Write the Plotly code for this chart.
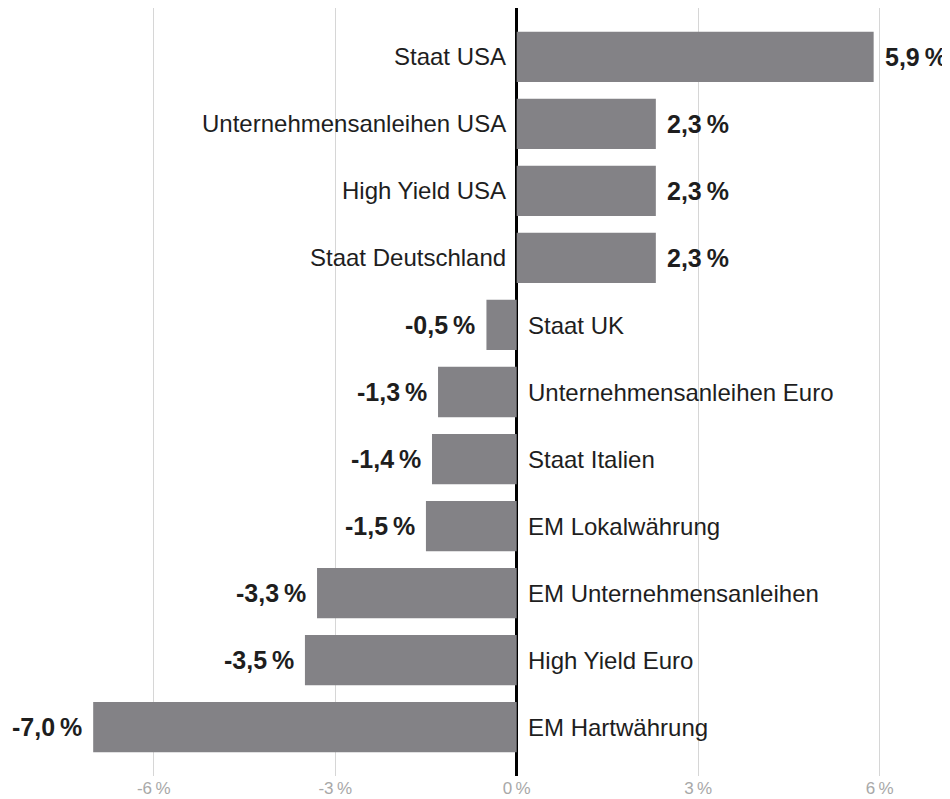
import plotly.graph_objects as go

categories = ["Staat USA", "Unternehmensanleihen USA", "High Yield USA", "Staat Deutschland",
              "Staat UK", "Unternehmensanleihen Euro", "Staat Italien", "EM Lokalwährung",
              "EM Unternehmensanleihen", "High Yield Euro", "EM Hartwährung"]
values = [5.9, 2.3, 2.3, 2.3, -0.5, -1.3, -1.4, -1.5, -3.3, -3.5, -7.0]
tick_vals = [-6, -3, 0, 3, 6]
tick_text = ["-6\u2009%", "-3\u2009%", "0\u2009%", "3\u2009%", "6\u2009%"]

FONT = "Liberation Sans, Arial, Helvetica, sans-serif"
BAR_COLOR = "#838286"
TEXT_COLOR = "#1e1e1e"

fig = go.Figure()
fig.add_trace(go.Bar(
    x=values, y=categories, orientation="h",
    marker=dict(color=BAR_COLOR, line=dict(width=0)),
    width=0.75, hoverinfo="skip",
))

annotations = []
for cat, v in zip(categories, values):
    label = f"{v:.1f}".replace(".", ",") + "\u2009%"
    pos = v >= 0
    annotations.append(dict(
        x=v, y=cat, xref="x", yref="y", text=f"<b>{label}</b>", showarrow=False,
        xanchor="left" if pos else "right", xshift=9 if pos else -9,
        font=dict(family=FONT, size=25, color=TEXT_COLOR),
    ))
    annotations.append(dict(
        x=0, y=cat, xref="x", yref="y", text=cat, showarrow=False,
        xanchor="right" if pos else "left", xshift=-9 if pos else 9,
        font=dict(family=FONT, size=24, color=TEXT_COLOR),
    ))

fig.update_layout(
    width=942, height=791,
    margin=dict(l=0, r=0, t=0, b=23),
    paper_bgcolor="white", plot_bgcolor="white",
    showlegend=False,
    annotations=annotations,
    xaxis=dict(
        range=[-8.408, 7.162], tickvals=tick_vals, ticktext=tick_text,
        showgrid=True, gridcolor="#d6d6d6", gridwidth=1,
        zeroline=True, zerolinecolor="black", zerolinewidth=2.5,
        tickfont=dict(family=FONT, size=17, color="#a8a8a8"),
        showline=False, ticks="", fixedrange=True, automargin=False,
    ),
    yaxis=dict(
        categoryorder="array", categoryarray=categories,
        range=[10.731, -0.731], showticklabels=False, showgrid=False,
        zeroline=False, showline=False, ticks="",
    ),
)

fig.write_html("out.html")
